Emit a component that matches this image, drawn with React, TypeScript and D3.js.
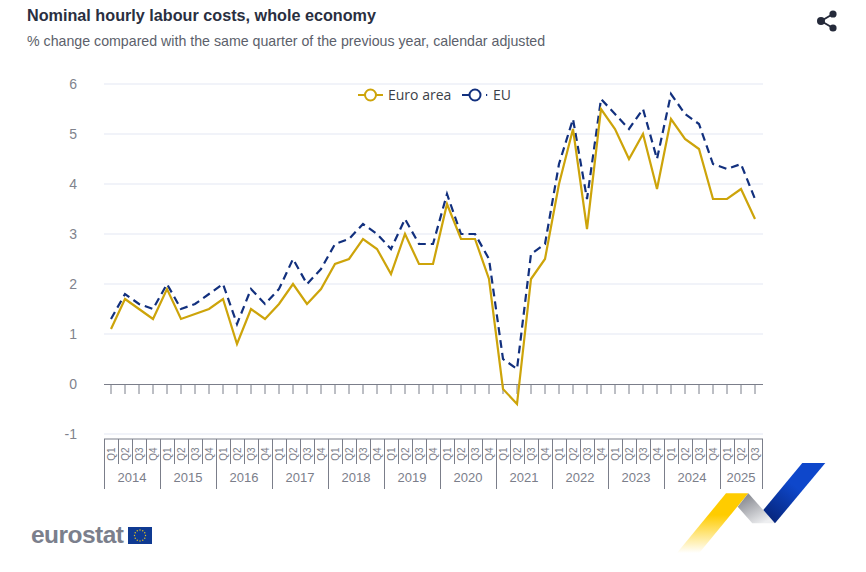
import React, { useEffect, useRef } from "react";
import * as d3 from "d3";

const years = ["2014", "2015", "2016", "2017", "2018", "2019", "2020", "2021", "2022", "2023", "2024", "2025"];
const quarters = ["Q1", "Q2", "Q3", "Q4"];
const yTicks = [-1, 0, 1, 2, 3, 4, 5, 6];

const euroArea = [
  1.1, 1.7, 1.5, 1.3, 1.9, 1.3, 1.4, 1.5, 1.7, 0.8, 1.5, 1.3,
  1.6, 2.0, 1.6, 1.9, 2.4, 2.5, 2.9, 2.7, 2.2, 3.0, 2.4, 2.4,
  3.6, 2.9, 2.9, 2.1, -0.1, -0.4, 2.1, 2.5, 4.0, 5.1, 3.1, 5.5,
  5.1, 4.5, 5.0, 3.9, 5.3, 4.9, 4.7, 3.7, 3.7, 3.9, 3.3,
];
const eu = [
  1.3, 1.8, 1.6, 1.5, 2.0, 1.5, 1.6, 1.8, 2.0, 1.2, 1.9, 1.6,
  1.9, 2.5, 2.0, 2.3, 2.8, 2.9, 3.2, 3.0, 2.7, 3.3, 2.8, 2.8,
  3.8, 3.0, 3.0, 2.5, 0.5, 0.3, 2.6, 2.8, 4.4, 5.3, 3.7, 5.7,
  5.4, 5.1, 5.5, 4.5, 5.8, 5.4, 5.2, 4.4, 4.3, 4.4, 3.7,
];

const GOLD = "#cda40a";
const NAVY = "#12307e";
const GREY = "#7b7e8a";
const SANS = "'Liberation Sans', Arial, sans-serif";

export default function App() {
  const svgRef = useRef<SVGSVGElement>(null);

  useEffect(() => {
    if (!svgRef.current) return;
    const svg = d3.select(svgRef.current);
    svg.selectAll("*").remove();

    const periods = euroArea.map((_, i) => i);
    const x = d3.scaleBand<number>().domain(periods).range([104, 762]);
    const y = d3.scaleLinear().domain([-1, 6]).range([434, 84]);
    const cx = (i: number) => x(i)! + x.bandwidth() / 2;

    // titles
    svg.append("text").attr("x", 27).attr("y", 21).attr("font-family", SANS)
      .attr("font-size", 16.2).attr("font-weight", 700).attr("fill", "#2a2f3f")
      .text("Nominal hourly labour costs, whole economy");
    svg.append("text").attr("x", 27).attr("y", 46).attr("font-family", SANS)
      .attr("font-size", 14.2).attr("fill", "#5c5f6b")
      .text("% change compared with the same quarter of the previous year, calendar adjusted");

    // grid
    svg.append("g").selectAll("line").data(yTicks.filter((d) => d !== 0)).join("line")
      .attr("x1", 104).attr("x2", 763)
      .attr("y1", (d) => y(d)).attr("y2", (d) => y(d))
      .attr("stroke", "#e3e7f3").attr("stroke-width", 1);

    // y axis labels
    const yAxis = svg.append("g").attr("transform", "translate(77,0)")
      .call(d3.axisLeft(y).tickValues(yTicks).tickSize(0).tickFormat((d) => String(d)));
    yAxis.select(".domain").remove();
    yAxis.selectAll("text").attr("font-family", SANS).attr("font-size", 14)
      .attr("fill", "#80838d").attr("x", 0);

    // zero line with ticks
    const zeroAxis = svg.append("g").attr("transform", `translate(0,${y(0)})`)
      .call(d3.axisBottom(x).tickSize(10).tickSizeOuter(0).tickFormat(() => ""));
    zeroAxis.select(".domain").attr("stroke", GREY).attr("d", "M104,0.5H763");
    zeroAxis.selectAll(".tick line").attr("stroke", GREY);

    // lines
    const line = d3.line<number>().x((_, i) => cx(i)).y((d) => y(d));
    svg.append("path").datum(eu).attr("d", line).attr("fill", "none")
      .attr("stroke", NAVY).attr("stroke-width", 2.2).attr("stroke-dasharray", "8 5");
    svg.append("path").datum(euroArea).attr("d", line).attr("fill", "none")
      .attr("stroke", GOLD).attr("stroke-width", 2.2);

    // legend
    const legend = svg.append("g");
    legend.append("line").attr("x1", 358).attr("x2", 383).attr("y1", 95).attr("y2", 95)
      .attr("stroke", GOLD).attr("stroke-width", 2);
    legend.append("circle").attr("cx", 370.5).attr("cy", 95).attr("r", 5.5)
      .attr("fill", "#fff").attr("stroke", GOLD).attr("stroke-width", 2);
    legend.append("text").attr("x", 388).attr("y", 100).attr("font-family", "'Open Sans', sans-serif")
      .attr("font-size", 14).attr("fill", "#3c3f48").text("Euro area");
    legend.append("line").attr("x1", 462).attr("x2", 488).attr("y1", 95).attr("y2", 95)
      .attr("stroke", NAVY).attr("stroke-width", 2).attr("stroke-dasharray", "10 14 1.2 10");
    legend.append("circle").attr("cx", 475).attr("cy", 95).attr("r", 5.5)
      .attr("fill", "#fff").attr("stroke", NAVY).attr("stroke-width", 2);
    legend.append("text").attr("x", 493).attr("y", 100).attr("font-family", "'Open Sans', sans-serif")
      .attr("font-size", 14).attr("fill", "#3c3f48").text("EU");

    // category axis: quarters and years
    const axisTop = 439;
    const cat = svg.append("g");
    cat.append("line").attr("x1", 104).attr("x2", 763).attr("y1", axisTop).attr("y2", axisTop)
      .attr("stroke", GREY);
    const edges = periods.concat(periods.length);
    const edgeX = (i: number) => (i < periods.length ? x(i)! : x(i - 1)! + x.bandwidth());
    cat.selectAll("line.sep").data(edges).join("line").attr("class", "sep")
      .attr("x1", (d) => edgeX(d) + 0.5).attr("x2", (d) => edgeX(d) + 0.5)
      .attr("y1", axisTop)
      .attr("y2", (d) => (d % 4 === 0 || d === periods.length ? 489 : 464))
      .attr("stroke", GREY);
    cat.selectAll("text.q").data(periods).join("text").attr("class", "q")
      .attr("transform", (d) => `translate(${cx(d) + 3.5},454) rotate(-90)`)
      .attr("text-anchor", "middle").attr("font-family", SANS).attr("font-size", 10)
      .attr("fill", GREY).text((d) => quarters[d % 4]);
    cat.selectAll("text.yr").data(years).join("text").attr("class", "yr")
      .attr("x", (_, i) => {
        const first = i * 4;
        const last = Math.min(first + 3, periods.length - 1);
        return (x(first)! + x(last)! + x.bandwidth()) / 2;
      })
      .attr("y", 482).attr("text-anchor", "middle").attr("font-family", SANS)
      .attr("font-size", 13).attr("fill", GREY).text((d) => d);

    // share icon
    const share = svg.append("g").attr("fill", "#252a3a");
    share.append("path").attr("d", "M821,21L833,14M821,21L833,28").attr("stroke", "#252a3a").attr("stroke-width", 2);
    share.append("circle").attr("cx", 821).attr("cy", 21).attr("r", 4);
    share.append("circle").attr("cx", 833).attr("cy", 14).attr("r", 3.6);
    share.append("circle").attr("cx", 833).attr("cy", 28).attr("r", 3.6);

    // eurostat logo
    svg.append("text").attr("x", 31).attr("y", 543).attr("font-family", SANS)
      .attr("font-size", 24.5).attr("font-weight", 700).attr("fill", "#7b7f8c")
      .attr("textLength", 93).text("eurostat");
    svg.append("rect").attr("x", 128).attr("y", 527).attr("width", 24).attr("height", 17).attr("fill", "#0f3a92");
    svg.append("g").selectAll("circle").data(d3.range(12)).join("circle")
      .attr("cx", (d) => 140 + 5.5 * Math.cos((d * Math.PI) / 6))
      .attr("cy", (d) => 535.5 + 5.5 * Math.sin((d * Math.PI) / 6))
      .attr("r", 0.7).attr("fill", "#e6c51e");

    // ribbon
    const defs = svg.append("defs");
    const grad = (id: string, x1: number, y1: number, x2: number, y2: number, stops: [string, string]) => {
      const g = defs.append("linearGradient").attr("id", id).attr("gradientUnits", "userSpaceOnUse")
        .attr("x1", x1).attr("y1", y1).attr("x2", x2).attr("y2", y2);
      g.append("stop").attr("offset", 0).attr("stop-color", stops[0]);
      g.append("stop").attr("offset", 1).attr("stop-color", stops[1]);
    };
    grad("ribY", 0, 515, 0, 553, ["#ffcc00", "#ffffff"]);
    grad("ribG", 745, 498, 760, 525, ["#8d8f96", "#eeeff1"]);
    grad("ribB", 800, 490, 775, 522, ["#0e47cb", "#07277f"]);
    svg.append("path").attr("d", "M726,493.3L748.3,493.3L699,553.3L676.7,553.3Z").attr("fill", "url(#ribY)");
    svg.append("path").attr("d", "M748.3,493.3L775,523.3L752.3,523.3L737.7,506.7Z").attr("fill", "url(#ribG)");
    svg.append("path").attr("d", "M802.3,463L825.3,463L775,523.3L763.3,510Z").attr("fill", "url(#ribB)");
  }, []);

  return (
    <svg
      ref={svgRef}
      width={866}
      height={572}
      style={{ position: "absolute", left: 0, top: 0, background: "#fff" }}
    />
  );
}
